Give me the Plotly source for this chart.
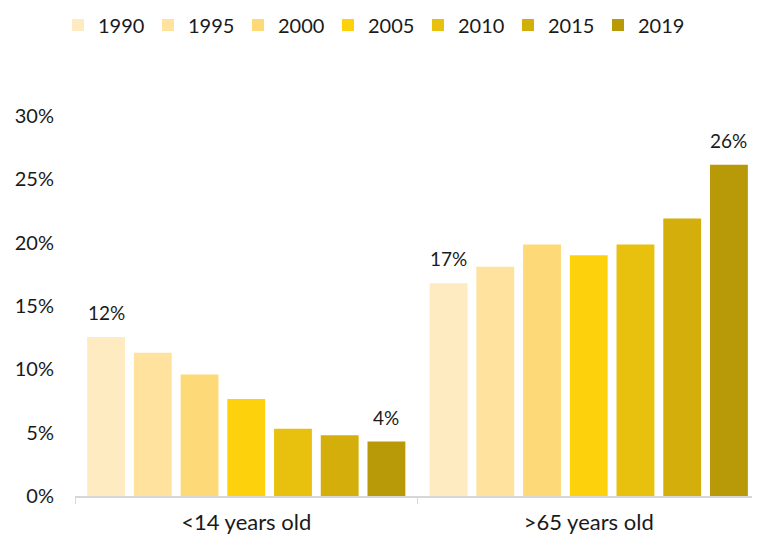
import plotly.graph_objects as go

categories = ["<14 years old", ">65 years old"]
years = ["1990", "1995", "2000", "2005", "2010", "2015", "2019"]
values = {
    "1990": [12.55, 16.8],
    "1995": [11.3, 18.1],
    "2000": [9.6, 19.85],
    "2005": [7.65, 19.0],
    "2010": [5.3, 19.85],
    "2015": [4.8, 21.9],
    "2019": [4.3, 26.15],
}
labels = {
    "1990": ["12%", "17%"],
    "2019": ["4%", "26%"],
}
colors = ["#FEEBC1", "#FEE29E", "#FDD977", "#FDD20D", "#E8C00E", "#D4AF0B", "#B89A08"]

BARGAP = 0.045
FONT = "Lato, Open Sans, sans-serif"

fig = go.Figure()
for yr, col in zip(years, colors):
    fig.add_trace(go.Bar(
        name=yr, x=categories, y=[v / 100 for v in values[yr]],
        marker=dict(color=col, line=dict(width=0)),
    ))

# value labels above selected bars (positions derived from the grouped-bar layout)
n = len(years)
for i, yr in enumerate(years):
    if yr not in labels:
        continue
    for ci, lab in enumerate(labels[yr]):
        xpos = ci - (1 - BARGAP) / 2 + (i + 0.5) * (1 - BARGAP) / n
        fig.add_annotation(x=xpos, y=values[yr][ci] / 100, text=lab,
                           showarrow=False, yanchor="bottom", yshift=11,
                           font=dict(size=19, color="#1a1a1a", family=FONT))

fig.update_layout(
    barmode="group", bargap=BARGAP, bargroupgap=0.19,
    width=752, height=526,
    margin=dict(l=67, r=0, t=108, b=38),
    paper_bgcolor="white", plot_bgcolor="white",
    font=dict(family=FONT, size=19, color="#1a1a1a"),
    legend=dict(orientation="h", x=50 / 752, y=1 - 17 / 526, yref="container",
                xref="container", yanchor="middle", xanchor="left",
                font=dict(size=20), itemwidth=30, traceorder="normal",
                entrywidth=45, entrywidthmode="pixels"),
    yaxis=dict(range=[0, 0.30], tickformat=".0%", dtick=0.05, showgrid=False,
               zeroline=False, showline=False, ticks="", ticklabelstandoff=20,
               tickfont=dict(size=20)),
    xaxis=dict(showline=True, linecolor="#d6d6d6", linewidth=1.5, ticks="outside",
               tickson="boundaries", ticklen=6, tickcolor="#d6d6d6",
               ticklabelstandoff=6, tickfont=dict(size=22)),
)
fig.write_html("out.html")
